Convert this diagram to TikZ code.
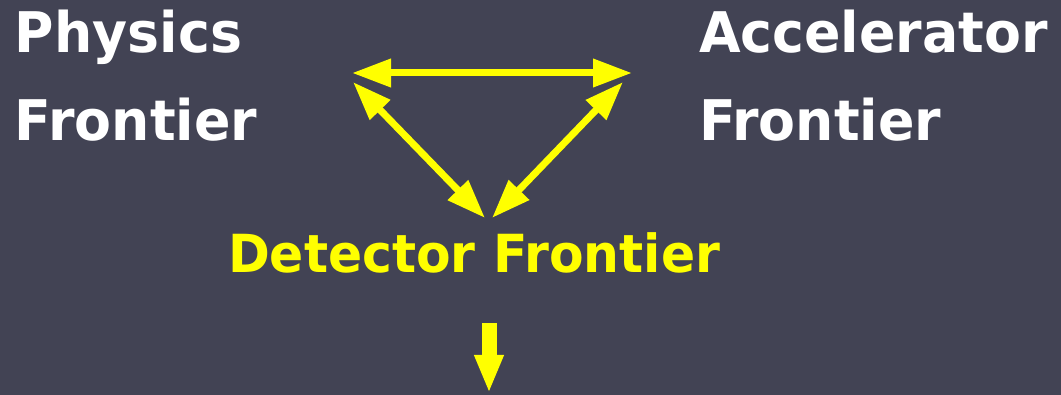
\documentclass[tikz,border=0pt]{standalone}
\usepackage{fontspec}
\setmainfont{DejaVu Sans}[FakeStretch=0.96]
\usetikzlibrary{arrows.meta}
\definecolor{slate}{RGB}{66,67,84}
\definecolor{hiyellow}{RGB}{255,255,0}
\begin{document}
\begin{tikzpicture}[x=1pt,y=-1pt,
  frontier/.style={inner sep=0pt,outer sep=0pt,text=white,align=left,
    font=\bfseries\fontsize{56}{88}\selectfont},
  detector/.style={inner sep=0pt,outer sep=0pt,text=hiyellow,
    font=\bfseries\fontsize{52.5}{60}\selectfont},
  link/.style={hiyellow,line width=7pt,
    {Triangle[length=39pt,width=27pt]}-{Triangle[length=39pt,width=27pt]}},
  outflow/.style={hiyellow,line width=15pt,
    -{Triangle[length=38pt,width=27pt]}}]
  % background
  \fill[slate] (0,0) rectangle (1061,395);
  \useasboundingbox (0,0) rectangle (1061,395);

  % the three frontiers
  \node[frontier,anchor=north west] (phys) at (15,9.5) {Physics\\Frontier};
  \node[frontier,anchor=north west] (acc) at (699,9.5) {Accelerator\\Frontier};
  \node[detector,anchor=base west] (det) at (228,273) {Detector Frontier};

  % arrow end points around the triangle
  \coordinate (physTop) at (352,73);
  \coordinate (accTop) at (632,73);
  \coordinate (physLow) at (353,82);
  \coordinate (accLow) at (623,82);
  \coordinate (detL) at (485,218);
  \coordinate (detR) at (492,218);

  \draw[link] (physTop) -- (accTop);
  \draw[link] (physLow) -- (detL);
  \draw[link] (accLow) -- (detR);

  % output below the detector frontier
  \coordinate (outStart) at (489,323);
  \coordinate (outEnd) at (489,393);
  \draw[outflow] (outStart) -- (outEnd);
\end{tikzpicture}
\end{document}
